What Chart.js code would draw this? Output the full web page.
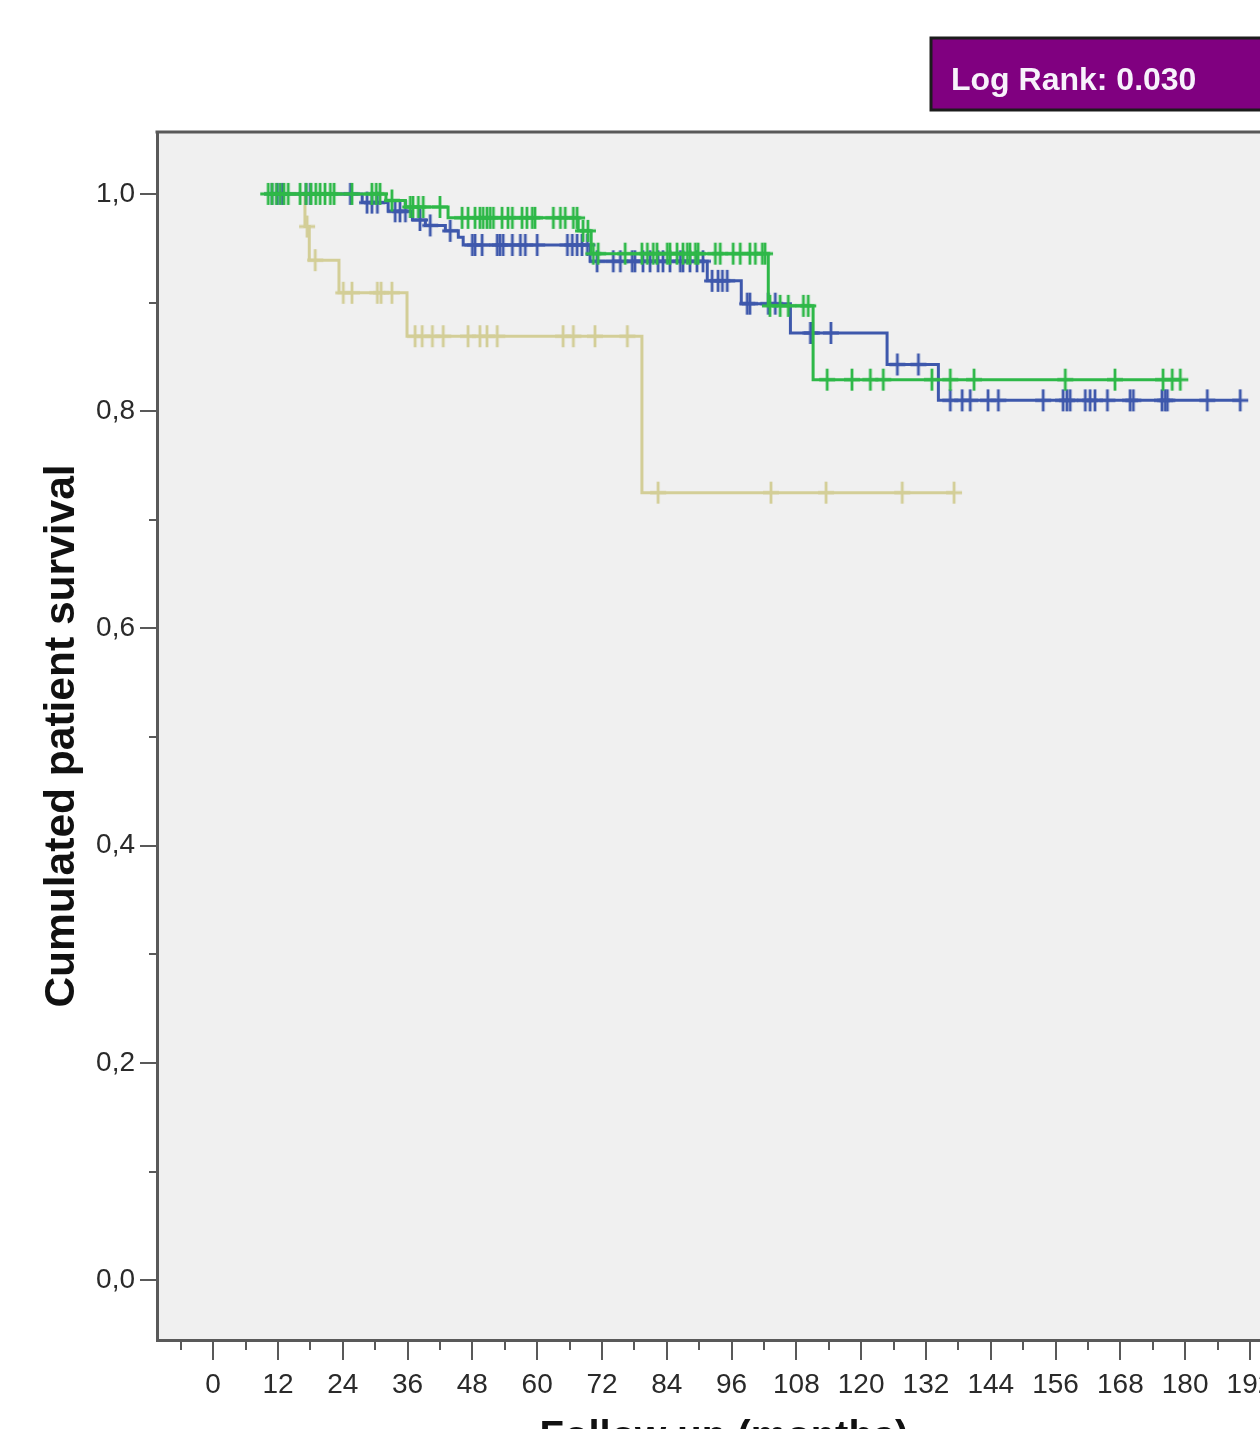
<!DOCTYPE html>
<html>
<head>
<meta charset="utf-8">
<title>Cumulated patient survival</title>
<script src="https://cdn.jsdelivr.net/npm/chart.js@4.4.0/dist/chart.umd.min.js"></script>
<style>
  html, body { margin: 0; padding: 0; background: #ffffff; overflow: hidden; }
  #wrap { width: 1320px; height: 1466px; }
</style>
</head>
<body>
<div id="wrap"><canvas id="km" width="1320" height="1466"></canvas></div>
<script>
// ---- Axis ticks ----
const monthTicks = [0, 12, 24, 36, 48, 60, 72, 84, 96, 108, 120, 132, 144, 156, 168, 180, 192];
const survivalTicks = [0, 0.2, 0.4, 0.6, 0.8, 1.0];
const logRankText = 'Log Rank: 0.030';

// ---- Group (blue): step times (months) and survival after each step ----
const blueStepMonths = [10.9, 27.6, 32.4, 36.9, 39.3, 43.0, 45.4, 46.3, 69.8, 91.5, 97.8, 106.9, 124.8, 134.3];
const blueStepSurv   = [1.000, 0.992, 0.984, 0.976, 0.971, 0.966, 0.960, 0.953, 0.938, 0.920, 0.899, 0.872, 0.843, 0.810];
const blueCensored = [10.9, 11.9, 12.8, 17.2, 18.0, 25.4, 28.5, 29.4, 30.4, 33.7, 34.6, 35.6, 38.3, 40.2, 43.9,
  48.0, 48.5, 49.8, 52.6, 53.1, 53.7, 55.4, 56.9, 57.8, 60.0, 65.6, 66.5, 67.4, 68.3, 69.3,
  71.1, 74.1, 75.4, 77.6, 78.1, 79.6, 80.9, 82.4, 83.3, 84.6, 86.5, 87.0, 88.3, 89.6, 90.7,
  92.4, 93.5, 94.3, 95.2, 98.9, 99.4, 102.8, 104.1, 110.6, 110.9, 114.4, 126.7, 130.6,
  136.5, 138.7, 140.2, 143.5, 145.4, 153.7, 157.4, 158.1, 158.7, 161.5, 162.4, 163.3, 165.6,
  169.8, 170.4, 175.7, 176.3, 176.7, 184.1, 190.2];

// ---- Group (green) ----
const greenStepMonths = [10.2, 32.0, 35.6, 43.5, 67.6, 70.0, 102.8, 111.1];
const greenStepSurv   = [1.000, 0.994, 0.988, 0.978, 0.966, 0.945, 0.897, 0.829];
const greenCensored = [10.2, 10.9, 11.7, 12.4, 13.1, 13.9, 16.1, 17.2, 18.1, 19.0, 19.8, 20.7, 21.7, 22.4,
  25.7, 29.4, 30.2, 30.9, 33.1, 36.5, 37.0, 38.0, 38.9, 42.0,
  46.1, 47.2, 48.5, 49.4, 50.0, 50.7, 51.3, 51.9, 53.5, 54.6, 55.4, 57.2, 58.1, 59.1, 59.6,
  63.0, 64.3, 65.2, 66.7, 67.4, 68.5, 69.4,
  70.4, 71.3, 76.3, 79.4, 80.4, 81.5, 82.2, 84.1, 84.6, 85.9, 87.0, 87.8, 88.3, 89.3, 89.8,
  93.0, 93.9, 96.3, 97.6, 99.4, 100.4, 101.7, 102.2,
  103.1, 105.0, 106.5, 109.3, 110.2,
  113.7, 118.3, 121.7, 124.1, 133.1, 136.5, 140.9, 157.8, 167.0, 175.9, 177.6, 179.1];

// ---- Group (beige) ----
const beigeStepMonths = [10.9, 17.0, 17.8, 23.3, 35.9, 79.4];
const beigeStepSurv   = [1.000, 0.970, 0.939, 0.909, 0.869, 0.725];
const beigeCensored = [17.4, 18.9, 24.1, 25.7, 30.4, 31.1, 33.1,
  37.4, 38.7, 40.6, 42.6, 47.2, 49.4, 50.7, 52.6, 64.8, 66.7, 70.7, 76.7,
  82.4, 103.3, 113.5, 127.6, 137.2];

// ---- Styling ----
const FONT = "'Liberation Sans', Arial, sans-serif";
const frameColor = '#595959';
const blue = '#3E58AC', green = '#2EB848', beige = '#D3CE97';

// Survival value of a step curve at time t
function survivalAt(months, surv, t) {
  let s = surv[0];
  for (let i = 0; i < months.length; i++) { if (months[i] <= t) s = surv[i]; }
  return s;
}
// Step line points, extended to the last follow-up time
function stepPoints(months, surv, censored) {
  const pts = months.map((m, i) => ({ x: m, y: surv[i] }));
  const end = Math.max(months[months.length - 1], censored[censored.length - 1]);
  pts.push({ x: end, y: surv[surv.length - 1] });
  return pts;
}
function censorPoints(months, surv, censored) {
  return censored.map(t => ({ x: t, y: survivalAt(months, surv, t) }));
}
// "+" mark for censored cases
function censorMark(color) {
  const c = document.createElement('canvas');
  c.width = 18; c.height = 24;
  const g = c.getContext('2d');
  g.strokeStyle = color; g.lineWidth = 2.8;
  g.beginPath();
  g.moveTo(9, 1); g.lineTo(9, 23);
  g.moveTo(1, 12); g.lineTo(17, 12);
  g.stroke();
  return c;
}

function curve(label, color, months, surv, censored, width) {
  return [{
    label: label, data: stepPoints(months, surv, censored), showLine: true, stepped: 'before',
    borderColor: color, borderWidth: width, pointRadius: 0, fill: false
  }, {
    label: label + ' censored', data: censorPoints(months, surv, censored), showLine: false,
    pointStyle: censorMark(color), pointRadius: 10, pointHoverRadius: 10
  }];
}

const framePlugin = {
  id: 'frame',
  beforeDraw(chart) {
    const { ctx, chartArea: a } = chart;
    ctx.save();
    ctx.fillStyle = '#F0F0F0';
    ctx.fillRect(a.left, a.top, a.right - a.left, a.bottom - a.top);
    ctx.restore();
  },
  afterDraw(chart) {
    const { ctx, chartArea: a, scales } = chart;
    const x = scales.x, y = scales.y;
    ctx.save();
    // top edge of the plot frame
    ctx.strokeStyle = frameColor;
    ctx.lineWidth = 3;
    ctx.beginPath();
    ctx.moveTo(a.left - 1.5, a.top); ctx.lineTo(a.right, a.top);
    ctx.stroke();
    // minor ticks
    ctx.lineWidth = 2;
    ctx.beginPath();
    for (let m = -6; m <= x.max; m += 12) {
      const px = Math.round(x.getPixelForValue(m));
      ctx.moveTo(px, a.bottom); ctx.lineTo(px, a.bottom + 10);
    }
    for (let k = 1; k < 10; k += 2) {
      const py = Math.round(y.getPixelForValue(k / 10));
      ctx.moveTo(a.left - 8, py); ctx.lineTo(a.left, py);
    }
    ctx.stroke();
    // log-rank annotation
    ctx.fillStyle = '#800080';
    ctx.fillRect(931, 38, 420, 72);
    ctx.strokeStyle = '#1c1c1c';
    ctx.lineWidth = 3;
    ctx.strokeRect(931, 38, 420, 72);
    ctx.fillStyle = '#F7F2FB';
    ctx.font = 'bold 32px ' + FONT;
    ctx.textBaseline = 'alphabetic';
    ctx.fillText(logRankText, 951, 90);
    ctx.restore();
  }
};

new Chart(document.getElementById('km'), {
  type: 'scatter',
  data: {
    datasets: [
      ...curve('Green', green, greenStepMonths, greenStepSurv, greenCensored, 3),
      ...curve('Blue', blue, blueStepMonths, blueStepSurv, blueCensored, 3),
      ...curve('Beige', beige, beigeStepMonths, beigeStepSurv, beigeCensored, 3)
    ]
  },
  options: {
    responsive: false,
    animation: false,
    events: [],
    layout: { padding: { left: 33, top: 132, right: 29, bottom: 0 } },
    plugins: { legend: { display: false }, tooltip: { enabled: false } },
    scales: {
      x: {
        type: 'linear', min: -10.4, max: 199.6,
        afterBuildTicks: s => { s.ticks = monthTicks.map(v => ({ value: v })); },
        afterFit: s => { s.height = 126; },
        ticks: { font: { family: FONT, size: 28 }, color: '#2a2a2a', padding: 8, maxRotation: 0, autoSkip: false },
        grid: { drawOnChartArea: false, drawTicks: true, tickLength: 20, color: frameColor, lineWidth: 2 },
        border: { display: true, color: frameColor, width: 3 },
        title: { display: true, text: 'Follow up (months)', color: '#111',
                 font: { family: FONT, size: 40, weight: 'bold' }, padding: { top: 0, bottom: 4 } }
      },
      y: {
        type: 'linear', min: -0.055, max: 1.057,
        afterBuildTicks: s => { s.ticks = survivalTicks.map(v => ({ value: v })); },
        afterFit: s => { s.width = 124; },
        ticks: { font: { family: FONT, size: 28 }, color: '#2a2a2a', padding: 5,
                 callback: v => v.toFixed(1).replace('.', ',') },
        grid: { drawOnChartArea: false, drawTicks: true, tickLength: 17, color: frameColor, lineWidth: 2 },
        border: { display: true, color: frameColor, width: 3 },
        title: { display: true, text: 'Cumulated patient survival', color: '#111',
                 font: { family: FONT, size: 42.5, weight: 'bold' }, padding: { top: 4, bottom: 0 } }
      }
    }
  },
  plugins: [framePlugin]
});
</script>
</body>
</html>
